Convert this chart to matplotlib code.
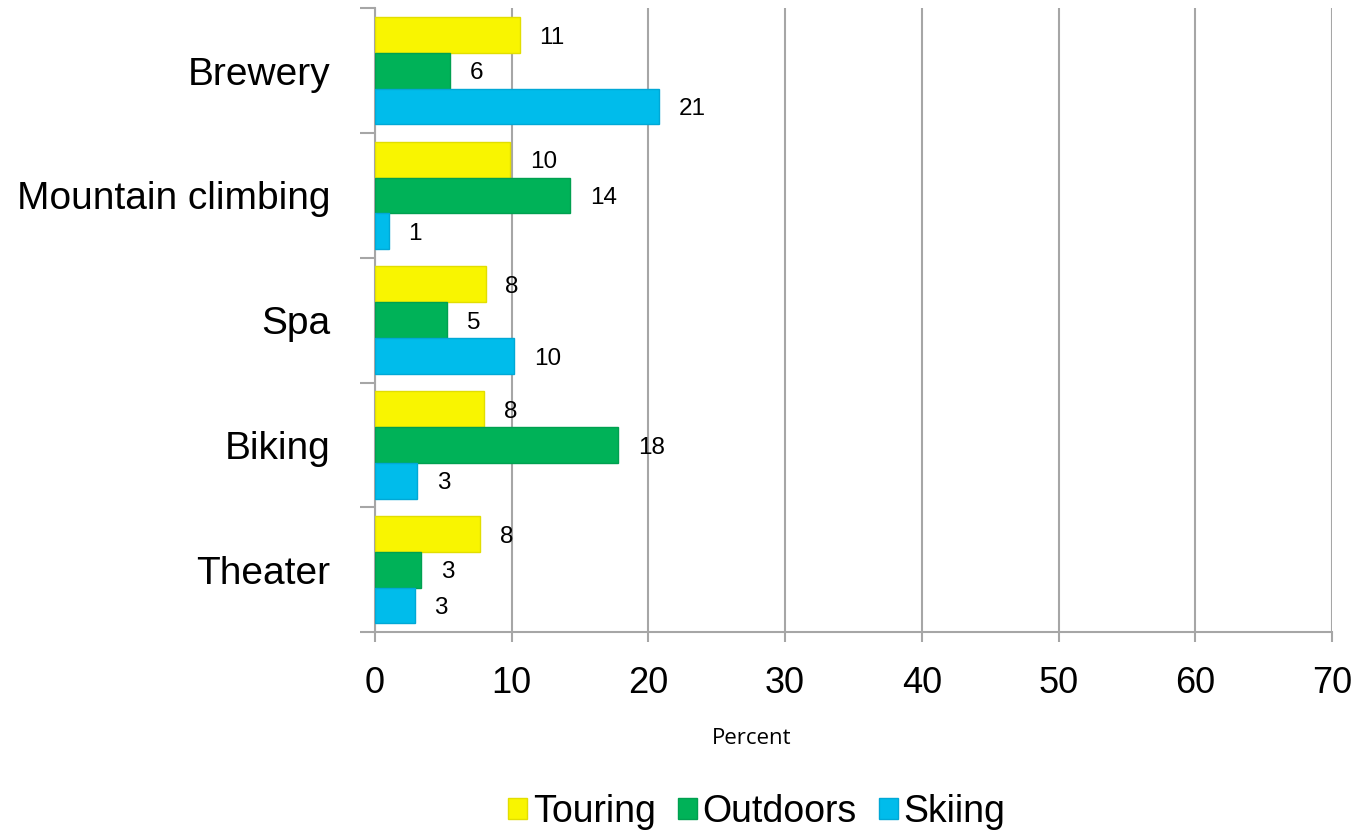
'''
Horizontal grouped bar chart of activity preferences by visitor type
'''

import numpy as np
import matplotlib.pyplot as plt
from matplotlib.patches import Patch

activities = ['Brewery', 'Mountain climbing', 'Spa', 'Biking', 'Theater']
touring = [10.6, 9.9, 8.1, 8.0, 7.7]
outdoors = [5.5, 14.3, 5.3, 17.8, 3.4]
skiing = [20.8, 1.0, 10.2, 3.1, 2.9]

series_names = ['Touring', 'Outdoors', 'Skiing']
series_colors = ['#F9F500', '#00B258', '#00BCEB']
edge_colors = ['#E2DE00', '#00A050', '#00A8D6']


def activity_chart():
    plt.rcParams['font.family'] = ['Liberation Sans', 'DejaVu Sans']
    fig = plt.figure(figsize=(13.58, 8.33), dpi=100)
    ax_ = fig.add_axes([0.2761, 0.2413, 0.7048, 0.7487])

    pos = np.arange(len(activities))
    height = 0.287
    grid_col = '#A6A6A6'

    for k, (vals, col, ecol) in enumerate(zip([touring, outdoors, skiing],
                                               series_colors, edge_colors)):
        y = pos + (k - 1) * height
        bars = ax_.barh(y, vals, height=height, color=col, edgecolor=ecol,
                        linewidth=1.0, zorder=3)
        for bar, val in zip(bars, vals):
            ax_.annotate('%.0f' % val,
                         xy=(bar.get_width(), bar.get_y() + bar.get_height() / 2),
                         xytext=(14, -2), textcoords='offset points',
                         ha='left', va='center', fontsize=17.5, zorder=4)

    ax_.set_xlim(0, 70)
    ax_.set_ylim(len(activities) - 0.5, -0.5)
    ax_.set_xticks(np.arange(0, 71, 10))
    ax_.set_yticks(pos)
    ax_.set_yticklabels(activities, fontsize=28)
    ax_.set_yticks(np.arange(-0.5, len(activities), 1), minor=True)
    ax_.tick_params(axis='y', which='major', length=0, pad=32)
    ax_.tick_params(axis='y', which='minor', length=11, width=1.5,
                    color=grid_col, direction='out')
    ax_.tick_params(axis='x', length=7.5, width=1.5, color=grid_col,
                    labelsize=26, pad=17)

    ax_.grid(axis='x', color=grid_col, linewidth=1.5, zorder=0)
    for side in ['top', 'right']:
        ax_.spines[side].set_visible(False)
    for side in ['left', 'bottom']:
        ax_.spines[side].set_color(grid_col)
        ax_.spines[side].set_linewidth(1.5)

    fig.text(752 / 1358, 1 - 738 / 833, 'Percent', ha='center', va='center',
             fontsize=16, family='Open Sans')

    handles = [Patch(facecolor=c, edgecolor=e, linewidth=1.0)
               for c, e in zip(series_colors, edge_colors)]
    fig.legend(handles, series_names, loc='center', ncol=3, frameon=False,
               bbox_to_anchor=(757 / 1358, 1 - 812 / 833), fontsize=27,
               handlelength=0.5, handleheight=0.5, handletextpad=0.15,
               columnspacing=0.6)

    plt.savefig('out.png', dpi=100)


if __name__ == "__main__":
    activity_chart()
